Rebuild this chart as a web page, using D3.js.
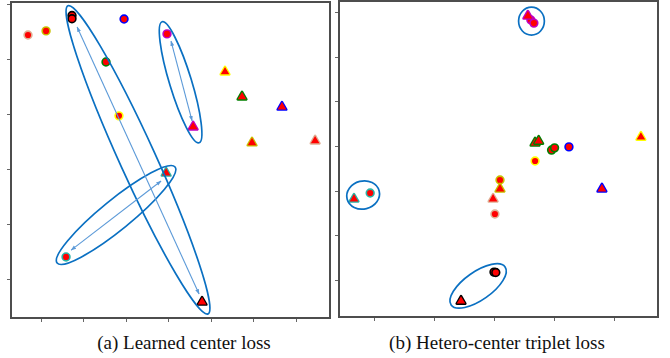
<!DOCTYPE html>
<html>
<head>
<meta charset="utf-8">
<script src="https://cdn.jsdelivr.net/npm/d3@7/dist/d3.min.js"></script>
<style>
  body { margin: 0; background: #fff; }
  .frame { fill: none; stroke: #4d4d4d; stroke-width: 1.2; shape-rendering: crispEdges; }
  .axis line { stroke: #666; shape-rendering: crispEdges; }
  .axis path.domain { display: none; }
  .pt { paint-order: stroke; }
  .group-ellipse { fill: none; stroke: #0a70c2; stroke-width: 1.7; }
  .link { stroke: #5c9ad8; stroke-width: 1.1; fill: none; }
  .caption { font-family: "Liberation Serif", "Times New Roman", serif; font-size: 19px; fill: #111; }
</style>
</head>
<body>
<svg id="chart" width="670" height="358"></svg>
<script>
// identity colours (edge of every marker), fill is always red
const idColors = ['#000000', '#0000ff', '#c000c0', '#008000', '#ffff00', '#c8c000', '#dfae92', '#2bb3a6'];

// (a) learned center loss, circle = visible, triangle = infrared
const learnedX    = [-65.9, -57.4, -45.2, -45.2, -20.7, -29.2, -23.1, -0.5, -48.0, 11.8, 26.8, 34.8, 53.6, 39.5, 69.2, -0.9, 16.0];
const learnedY    = [48.7, 50.2, 55.8, 54.6, 54.5, 38.9, 19.3, 49.1, -32.0, 15.3, 35.3, 26.2, 22.5, 9.5, 10.2, -1.5, -48.4];
const learnedId   = [6, 5, 0, 0, 1, 3, 4, 2, 7, 2, 4, 3, 1, 5, 6, 7, 0];
const learnedKind = ['c', 'c', 'c', 'c', 'c', 'c', 'c', 'c', 'c', 't', 't', 't', 't', 't', 't', 't', 't'];

// (b) hetero-center triplet loss
const heteroX    = [12.3, 13.3, 19.2, 20.2, 25.0, 13.7, 2.0, 0.3, -41.3, 0.0, 0.6, 11.3, 13.7, 14.9, 49.0, 36.0, 2.0, -0.3, -46.7, -11.0];
const heteroY    = [56.4, 55.0, -1.8, -0.8, -0.4, -6.7, -15.2, -30.4, -21.0, -56.4, -56.6, 58.2, 1.4, 2.2, 4.0, -19.2, -19.2, -23.7, -23.7, -69.4];
const heteroId   = [2, 2, 3, 3, 1, 4, 5, 6, 7, 0, 0, 2, 3, 3, 4, 1, 5, 6, 7, 0];
const heteroKind = ['c', 'c', 'c', 'c', 'c', 'c', 'c', 'c', 'c', 'c', 'c', 't', 't', 't', 't', 't', 't', 't', 't', 't'];

// ellipses: two tips in data units plus half width in px
const learnedEllipses = [
  { a: [-47.1, 59.3], b: [18.8, -52.7], hw: 18 },
  { a: [-2.8, 53.5], b: [14.6, 9.5], hw: 11 },
  { a: [-52.2, -34.2], b: [3.3, 0.7], hw: 15 }
];
const heteroEllipses = [
  { a: [8.2, 55.9], b: [16.8, 55.9], hw: 14 },
  { a: [-49.0, -23.7], b: [-38.3, -20.1], hw: 14 },
  { a: [-14.3, -71.1], b: [3.7, -54.1], hw: 14 }
];

// double headed arrows between the two centres of one identity
const learnedArrows = [
  { a: [-42.8, 51.6], b: [14.6, -45.5] },
  { a: [1.4, 46.5], b: [11.3, 17.5] },
  { a: [-45.6, -29.5], b: [-3.3, -4.4] }
];

const learnedTicksX = [-60, -40, -20, 0, 20, 40, 60];
const learnedTicksY = [-40, -20, 0, 20, 40, 60];
const heteroTicksX = [-40, -20, 0, 20, 40];
const heteroTicksY = [-60, -40, -20, 0, 20, 40, 60];

const captions = ['(a) Learned center loss', '(b) Hetero-center triplet loss'];

function translation(x, y) {
  return 'translate(' + x + ',' + y + ')';
}

const svg = d3.select('#chart');

svg.append('defs').append('marker')
  .attr('id', 'head')
  .attr('viewBox', '0 0 10 10')
  .attr('refX', 9)
  .attr('refY', 5)
  .attr('markerWidth', 5)
  .attr('markerHeight', 5)
  .attr('orient', 'auto-start-reverse')
  .append('path')
  .attr('d', 'M0,1.5 L10,5 L0,8.5 Z')
  .attr('fill', '#5c9ad8');

function drawPanel(cfg) {
  const w = cfg.right - cfg.left, h = cfg.bottom - cfg.top;
  const x = d3.scaleLinear().domain(cfg.xDomain).range([0, w]);
  const y = d3.scaleLinear().domain(cfg.yDomain).range([h, 0]);

  const g = svg.append('g').attr('transform', translation(cfg.left, cfg.top));

  // axes (ticks only, no labels)
  g.append('g')
    .attr('class', 'axis x')
    .attr('transform', translation(0, h))
    .call(d3.axisBottom(x).tickValues(cfg.ticksX).tickSize(4).tickFormat(''));

  g.append('g')
    .attr('class', 'axis y')
    .call(d3.axisLeft(y).tickValues(cfg.ticksY).tickSize(4).tickFormat(''));

  g.append('rect')
    .attr('class', 'frame')
    .attr('width', w)
    .attr('height', h);

  // markers: red body, identity colour as a halo behind it
  const pts = cfg.xs.map((v, i) => ({ x: v, y: cfg.ys[i], id: cfg.ids[i], kind: cfg.kinds[i] }));
  const circle = d3.symbol(d3.symbolCircle).size(30);
  const tri = d3.symbol(d3.symbolTriangle).size(32);

  g.selectAll('path.pt')
    .data(pts)
    .enter().append('path')
    .attr('class', 'pt')
    .attr('transform', d => translation(x(d.x), y(d.y)))
    .attr('d', d => d.kind === 'c' ? circle() : tri())
    .attr('fill', '#ff0000')
    .attr('stroke', d => idColors[d.id])
    .attr('stroke-width', d => d.kind === 'c' ? 3.2 : 2.6)
    .attr('stroke-linejoin', 'round');

  // ellipses
  g.selectAll('ellipse')
    .data(cfg.ellipses)
    .enter().append('ellipse')
    .attr('class', 'group-ellipse')
    .each(function (d) {
      const ax = x(d.a[0]), ay = y(d.a[1]), bx = x(d.b[0]), by = y(d.b[1]);
      const len = Math.hypot(bx - ax, by - ay);
      const ang = Math.atan2(by - ay, bx - ax) * 180 / Math.PI;
      d3.select(this)
        .attr('rx', len / 2)
        .attr('ry', d.hw)
        .attr('transform', translation((ax + bx) / 2, (ay + by) / 2) + ' rotate(' + ang + ')');
    });

  g.selectAll('line.link')
    .data(cfg.arrows)
    .enter().append('line')
    .attr('class', 'link')
    .attr('x1', d => x(d.a[0]))
    .attr('y1', d => y(d.a[1]))
    .attr('x2', d => x(d.b[0]))
    .attr('y2', d => y(d.b[1]))
    .attr('marker-start', 'url(#head)')
    .attr('marker-end', 'url(#head)');
}

drawPanel({
  left: 11, right: 330, top: 2, bottom: 318,
  xDomain: [-73.9, 76.2], yDomain: [-54.2, 60.7],
  ticksX: learnedTicksX, ticksY: learnedTicksY,
  xs: learnedX, ys: learnedY, ids: learnedId, kinds: learnedKind,
  ellipses: learnedEllipses, arrows: learnedArrows
});

drawPanel({
  left: 339, right: 658, top: 1, bottom: 317,
  xDomain: [-51.7, 54.7], yDomain: [-76.5, 64.9],
  ticksX: heteroTicksX, ticksY: heteroTicksY,
  xs: heteroX, ys: heteroY, ids: heteroId, kinds: heteroKind,
  ellipses: heteroEllipses, arrows: []
});

// captions
svg.selectAll('text.caption')
  .data(captions)
  .enter().append('text')
  .attr('class', 'caption')
  .attr('x', (d, i) => i === 0 ? 184 : 497)
  .attr('y', 349)
  .attr('text-anchor', 'middle')
  .text(d => d);
</script>
</body>
</html>
